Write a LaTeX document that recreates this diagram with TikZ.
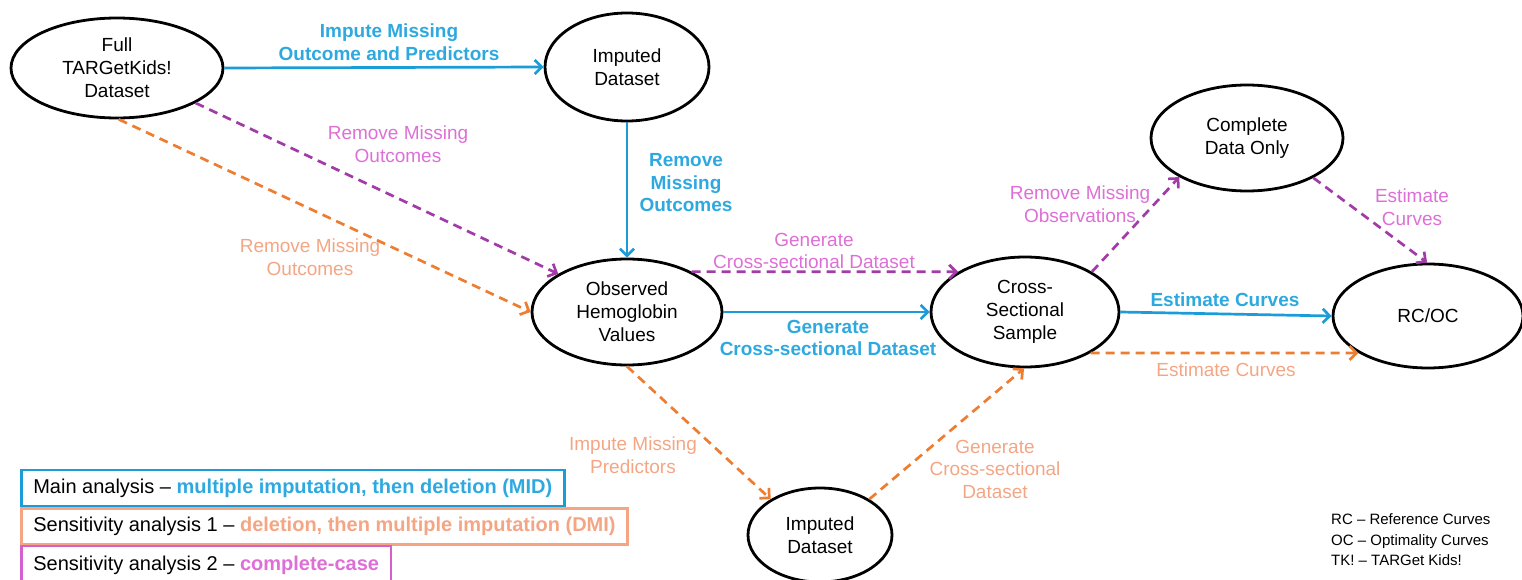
\documentclass[tikz,border=0pt]{standalone}
\usepackage{fontspec}
\setmainfont{Liberation Sans}
\usetikzlibrary{shapes.geometric,arrows.meta}

\definecolor{mibline}{HTML}{1B9BD7}
\definecolor{miblabel}{HTML}{2EA9E0}
\definecolor{ccline}{HTML}{A23BA8}
\definecolor{cclabel}{HTML}{DD6FD6}
\definecolor{dmiline}{HTML}{EE7D31}
\definecolor{dmilabel}{HTML}{F4A684}
\definecolor{ccbox}{HTML}{D45FCF}

\begin{document}
\begin{tikzpicture}[x=1pt,y=-1pt,
  state/.style={ellipse,draw=black,line width=2.8pt,inner sep=0pt,align=center,
    font=\fontsize{19}{23}\selectfont},
  flow/.style={line width=2.7pt,-{Straight Barb[length=7pt,width=14pt]}},
  mib/.style={flow,draw=mibline},
  dmi/.style={flow,draw=dmiline,dash pattern=on 9pt off 6pt},
  cc/.style={flow,draw=ccline,dash pattern=on 9pt off 6pt},
  lab/.style={align=center,inner sep=0pt,font=\fontsize{19}{22.5}\selectfont},
  miblab/.style={lab,text=miblabel,font=\fontsize{19}{22.5}\selectfont\bfseries},
  dmilab/.style={lab,text=dmilabel},
  cclab/.style={lab,text=cclabel},
  legend/.style={draw,line width=2.6pt,anchor=west,inner xsep=12pt,
    minimum height=36pt,font=\fontsize{20}{22}\selectfont}]
\useasboundingbox (0,0) rectangle (1522,580);
\clip (0,0) rectangle (1522,580);

% data sets and results
\node[state,minimum width=212pt,minimum height=100pt] (full) at (117,68) {Full\\TARGetKids!\\Dataset};
\node[state,minimum width=164pt,minimum height=108pt] (impA) at (627,67) {Imputed\\Dataset};
\node[state,minimum width=190pt,minimum height=106pt] (obs) at (627,312) {Observed\\Hemoglobin\\Values};
\node[state,minimum width=144pt,minimum height=94pt] (impB) at (820,535) {Imputed\\Dataset};
\node[state,minimum width=188pt,minimum height=110pt] (cross) at (1025,312) {Cross-\\Sectional\\Sample};
\node[state,minimum width=192pt,minimum height=106pt] (comp) at (1247,138) {Complete\\Data Only};
\node[state,minimum width=190pt,minimum height=104pt] (rcoc) at (1428,316) {RC/OC};

% main analysis (MID)
\draw[mib] (full.east) -- (impA.west);
\draw[mib] (impA.south) -- (obs.north);
\draw[mib] (obs.east) -- (cross.west);
\draw[mib] (cross.east) -- (rcoc.west);

% sensitivity analysis 1 (DMI)
\draw[dmi] (full.-88) -- (obs.west);
\draw[dmi] (obs.south) -- (impB.144);
\draw[dmi] (impB.36) -- (cross.-91);
\draw[dmi] (cross.-32) -- (rcoc.208);

% sensitivity analysis 2 (complete case)
\draw[cc] (full.-24) -- (obs.151);
\draw[cc] (obs.32) -- (cross.149);
\draw[cc] (cross.31) -- (comp.210);
\draw[cc] (comp.-31) -- (rcoc.91);

% step labels
\node[miblab] (l1) at (389,42) {Impute Missing\\Outcome and Predictors};
\node[cclab] (l2) at (398,144) {Remove Missing\\Outcomes};
\node[dmilab] (l3) at (310,257) {Remove Missing\\Outcomes};
\node[miblab] (l4) at (686,183) {Remove\\Missing\\Outcomes};
\node[cclab] (l5) at (814,251) {Generate\\Cross-sectional Dataset};
\node[miblab] (l6) at (828,338) {Generate\\Cross-sectional Dataset};
\node[dmilab] (l7) at (633,455) {Impute Missing\\Predictors};
\node[dmilab] (l8) at (995,469) {Generate\\Cross-sectional\\Dataset};
\node[cclab] (l9) at (1080,204) {Remove Missing\\Observations};
\node[cclab] (l10) at (1412,207) {Estimate\\Curves};
\node[miblab] (l11) at (1225,300) {Estimate Curves};
\node[dmilab] (l12) at (1226,370) {Estimate Curves};

% legend
\node[legend,draw=mibline] (legA) at (20,488) {Main analysis -- \textcolor{miblabel}{\bfseries multiple imputation, then deletion (MID)}};
\node[legend,draw=dmilabel] (legB) at (20,526.5) {Sensitivity analysis 1 -- \textcolor{dmilabel}{\bfseries deletion, then multiple imputation (DMI)}};
\node[legend,draw=ccbox,minimum height=38pt] (legC) at (20,565) {Sensitivity analysis 2 -- \textcolor{cclabel}{\bfseries complete-case}};

% abbreviations
\node[anchor=west,align=left,inner sep=0pt,font=\fontsize{15}{20.5}\selectfont] (abbr) at (1331,540)
  {RC -- Reference Curves\\OC -- Optimality Curves\\TK! -- TARGet Kids!};
\end{tikzpicture}
\end{document}
